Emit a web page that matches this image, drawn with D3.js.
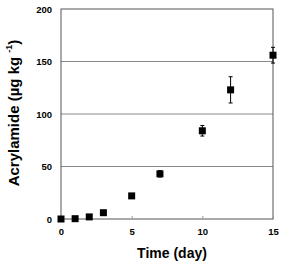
<!DOCTYPE html>
<html>
<head>
<meta charset="utf-8">
<script src="https://cdn.jsdelivr.net/npm/d3@7"></script>
<style>
  body { margin: 0; background: #fff; }
  text { font-family: Arial, "Liberation Sans", sans-serif; font-weight: bold; fill: #000; }
</style>
</head>
<body>
<div id="chart"></div>
<script>
var days = [0, 1, 2, 3, 5, 7, 10, 12, 15];
var acrylamide = [0, 0.3, 2, 6, 22, 43, 84, 123, 156];
var errors = [0.5, 0.5, 0.8, 1, 2, 3, 5, 12.5, 7.5];
var xTicks = [0, 5, 10, 15];
var yTicks = [0, 50, 100, 150, 200];

var width = 283, height = 263;
var margin = {top: 9, right: 10, bottom: 44, left: 61};

var svg = d3.select('#chart').append('svg')
  .attr('width', width)
  .attr('height', height);

var x = d3.scaleLinear().domain([0, 15]).range([margin.left, width - margin.right]);
var y = d3.scaleLinear().domain([0, 200]).range([height - margin.bottom, margin.top]);

//gridlines
svg.selectAll('.grid')
  .data([50, 100, 150])
  .enter().append('line')
    .attr('x1', x(0)).attr('x2', x(15))
    .attr('y1', function(d) { return y(d); })
    .attr('y2', function(d) { return y(d); })
    .attr('stroke', '#888')
    .attr('stroke-width', 1);

//plot box
svg.append('rect')
  .attr('x', x(0)).attr('y', y(200))
  .attr('width', x(15) - x(0))
  .attr('height', y(0) - y(200))
  .attr('fill', 'none')
  .attr('stroke', '#555')
  .attr('stroke-width', 1);

//axes
var xAxis = svg.append('g')
  .attr('transform', 'translate(0,' + y(0) + ')')
  .call(d3.axisBottom(x).tickValues(xTicks).tickSize(-3).tickPadding(9));
var yAxis = svg.append('g')
  .attr('transform', 'translate(' + x(0) + ',0)')
  .call(d3.axisLeft(y).tickValues(yTicks).tickSize(0).tickPadding(9));

[xAxis, yAxis].forEach(function(a) {
  a.select('.domain').remove();
  a.selectAll('.tick line').attr('stroke', '#999');
  a.selectAll('text').style('font-size', '9.5px').style('font-family', 'Arial, "Liberation Sans", sans-serif').style('font-weight', 'bold');
});

//error bars
var eb = svg.append('g');
days.forEach(function(d, i) {
  var cx = x(d);
  var lo = y(acrylamide[i] - errors[i]), hi = y(acrylamide[i] + errors[i]);
  eb.append('line').attr('x1', cx).attr('x2', cx).attr('y1', lo).attr('y2', hi).attr('stroke', '#000');
  eb.append('line').attr('x1', cx - 2).attr('x2', cx + 2).attr('y1', lo).attr('y2', lo).attr('stroke', '#000');
  eb.append('line').attr('x1', cx - 2).attr('x2', cx + 2).attr('y1', hi).attr('y2', hi).attr('stroke', '#000');
});

//markers
svg.selectAll('.pt')
  .data(days)
  .enter().append('rect')
    .attr('class', 'pt')
    .attr('x', function(d) { return x(d) - 3.5; })
    .attr('y', function(d, i) { return y(acrylamide[i]) - 3.5; })
    .attr('width', 7).attr('height', 7)
    .attr('fill', '#000');

//axis titles
svg.append('text')
  .attr('x', 172).attr('y', 258)
  .attr('text-anchor', 'middle')
  .style('font-size', '14px')
  .text('Time (day)');

var yt = svg.append('text')
  .attr('transform', 'translate(19,113) rotate(-90)')
  .attr('text-anchor', 'middle')
  .style('font-size', '15px');
yt.append('tspan').text('Acrylamide (\u00b5g kg ');
yt.append('tspan').attr('dy', -7).style('font-size', '9px').text('-1');
yt.append('tspan').attr('dy', 7).text(')');
</script>
</body>
</html>
